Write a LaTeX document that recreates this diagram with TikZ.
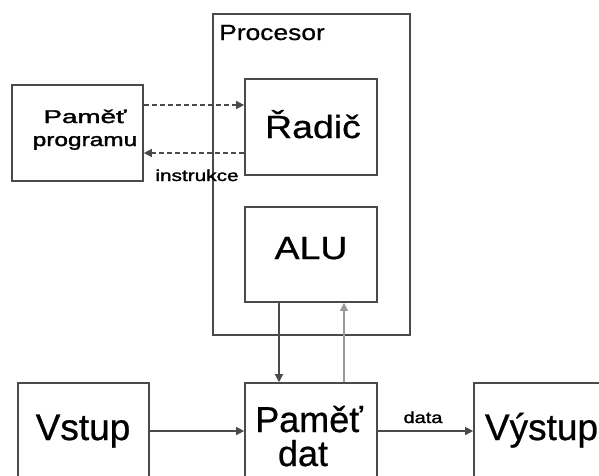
\documentclass[tikz,border=0pt]{standalone}
\usepackage{fontspec}
\setmainfont[FakeBold=0.7]{Liberation Sans}
\newfontfamily\boldish[FakeBold=1.5]{Liberation Sans}
\usetikzlibrary{arrows.meta}
\definecolor{linegray}{HTML}{4A4A4A}
\definecolor{lightline}{HTML}{9A9A9A}
\tikzset{
  box/.style={draw=linegray, line width=1.7pt, inner sep=0pt, fill=none},
  lbl/.style={inner sep=0pt, anchor=base, text=black},
  conn/.style={draw=linegray, line width=1.4pt, -{Triangle[length=8pt,width=8pt]}},
  dconn/.style={conn, dash pattern=on 5pt off 3pt},
  lconn/.style={draw=lightline, line width=1.2pt, -{Triangle[length=8pt,width=8pt]}, color=lightline},
}
\newcommand{\fs}[1]{\fontsize{#1pt}{#1pt}\selectfont}
\begin{document}
\begin{tikzpicture}[x=1pt,y=-1pt]
\useasboundingbox (0,0) rectangle (599,475);
\clip (0,0) rectangle (599,475);
\fill[white] (0,0) rectangle (599,475);
% boxes
\node[box, minimum width=197pt, minimum height=321pt] (proc) at (311.5,174.5) {};
\node[box, minimum width=131pt, minimum height=96pt] (pp) at (77.5,133) {};
\node[box, minimum width=132pt, minimum height=96pt] (radic) at (311,127) {};
\node[box, minimum width=132pt, minimum height=95pt] (alu) at (311,254.5) {};
\node[box, minimum width=131pt, minimum height=96pt] (vs) at (83.5,431) {};
\node[box, minimum width=132pt, minimum height=96pt] (pd) at (311,431) {};
\node[box, minimum width=131pt, minimum height=96pt] (vy) at (539.5,431) {};
% texts
\node[lbl, anchor=base west] (tproc) at (219,40) {\fs{22}\scalebox{1.2}[1]{Procesor}};
\node[lbl] (tpp1) at (85,123) {\boldish\fs{18.5}\scalebox{1.5}[1]{Paměť}};
\node[lbl] (tpp2) at (85,146) {\boldish\fs{18.5}\scalebox{1.32}[1]{programu}};
\node[lbl] (tradic) at (313,138) {\fs{32}\scalebox{1.17}[1]{Řadič}};
\node[lbl] (talu) at (311,259) {\fs{32}\scalebox{1.17}[1]{ALU}};
\node[lbl] (tvs) at (83,440) {\fs{37}Vstup};
\node[lbl] (tpd1) at (309,432) {\fs{36}Paměť};
\node[lbl] (tpd2) at (303,466) {\fs{36}dat};
\node[lbl] (tvy) at (541.5,440) {\fs{37}Výstup};
% connectors
\draw[dconn] ([yshift=28pt]pp.east) -- ([yshift=28pt]pp.east -| radic.west);
\draw[dconn] ([yshift=-20pt]pp.east -| radic.west) -- ([yshift=-20pt]pp.east);
\node[lbl] (tinstr) at (197,181) {\boldish\fs{16}\scalebox{1.3}[1]{instrukce}};
\draw[conn] ([xshift=-32pt]alu.south) -- ([xshift=-32pt]alu.south |- pd.north);
\draw[lconn] ([xshift=33pt]alu.south |- pd.north) -- ([xshift=33pt]alu.south);
\draw[conn] (vs.east) -- (pd.west);
\draw[conn] (pd.east) -- (vy.west);
\node[lbl] (tdata) at (423,423) {\boldish\fs{16}\scalebox{1.25}[1]{data}};
\end{tikzpicture}
\end{document}
